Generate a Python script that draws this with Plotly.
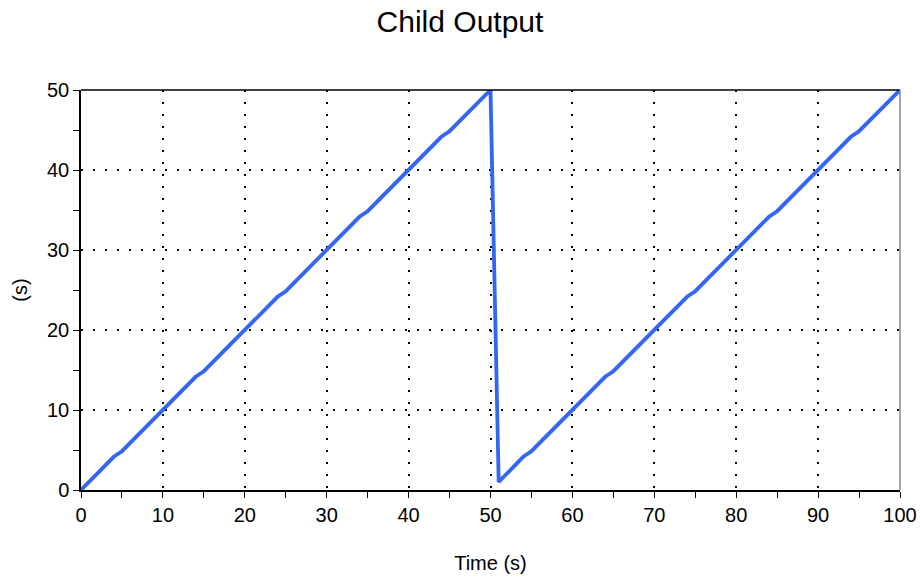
import plotly.graph_objects as go

# sample points (time in s, output in s)
time = [0, 4, 5, 14, 15, 24, 25, 34, 35, 44, 45, 50,
        51, 54, 55, 64, 65, 74, 75, 84, 85, 94, 95, 100]
output = [0, 4.15, 4.85, 14.15, 14.85, 24.15, 24.85, 34.15, 34.85, 44.15, 44.85, 50,
          1, 4.15, 4.85, 14.15, 14.85, 24.15, 24.85, 34.15, 34.85, 44.15, 44.85, 50]

x_ticks = [0, 10, 20, 30, 40, 50, 60, 70, 80, 90, 100]
y_ticks = [0, 10, 20, 30, 40, 50]

font_family = "Liberation Sans, Arial, sans-serif"

fig = go.Figure()
fig.add_trace(go.Scatter(
    x=time, y=output,
    mode="lines",
    line=dict(color="#3366f5", width=3.8),
    showlegend=False,
))

axis_common = dict(
    showline=True, linecolor="black", linewidth=1.5,
    ticks="outside", ticklen=6, tickwidth=1.2, tickcolor="black",
    showgrid=True, gridcolor="black", gridwidth=1.5, griddash="2px,10px",
    zeroline=False, automargin=False,
    tickfont=dict(size=20, color="black", family=font_family),
    minor=dict(ticks="outside", ticklen=6, tickwidth=1.2, tickcolor="black",
               dtick=5, showgrid=False),
)

fig.update_xaxes(
    range=[0, 100], tickvals=x_ticks, mirror=False,
    title=dict(text="Time (s)", font=dict(size=20, color="black", family=font_family),
               standoff=31),
    **axis_common,
)
fig.update_yaxes(
    range=[0, 50], tickvals=y_ticks, mirror=False,
    title=dict(text="(s)", font=dict(size=20, color="black", family=font_family),
               standoff=14),
    **axis_common,
)

# top border black, right border gray
fig.add_shape(type="line", xref="paper", yref="paper", x0=0, x1=1, y0=1, y1=1,
              line=dict(color="black", width=1.5))
fig.add_shape(type="line", xref="paper", yref="paper", x0=1, x1=1, y0=0, y1=1,
              line=dict(color="#888888", width=1.5))

fig.update_layout(
    title=dict(text="Child Output", x=0.5, xanchor="center",
               y=0.962, yanchor="middle",
               font=dict(size=30, color="black", family=font_family)),
    width=920, height=577,
    margin=dict(l=81, r=20, t=90, b=87),
    plot_bgcolor="white", paper_bgcolor="white",
    font=dict(family=font_family, color="black"),
)

# drop the page's default body margin so the figure fills the window exactly
fig.write_html("out.html", config={"displayModeBar": False},
               post_script="document.body.style.margin='0';document.body.style.overflow='hidden';")
